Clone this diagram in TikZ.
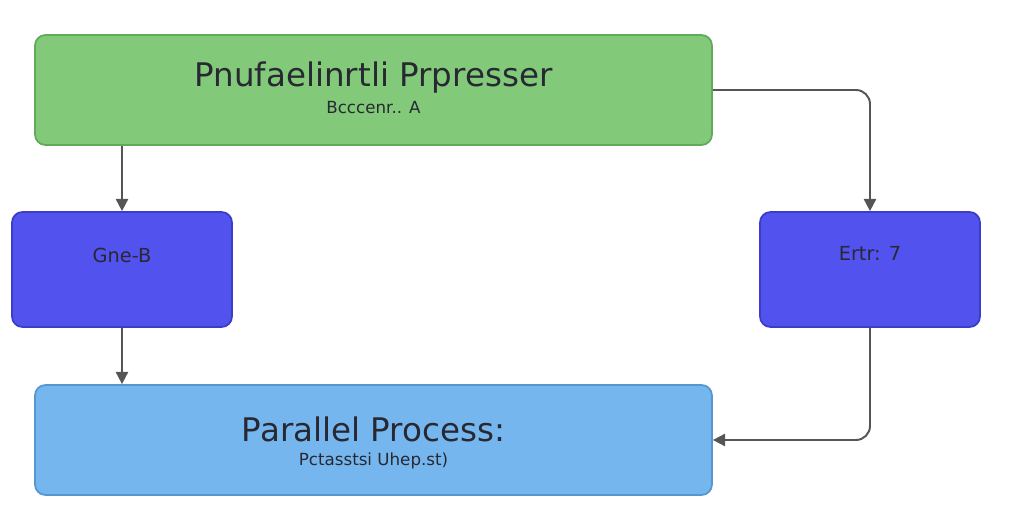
\documentclass[tikz,border=0pt]{standalone}
\usepackage{fontspec}
\setmainfont{DejaVu Sans}
\usetikzlibrary{arrows.meta}
\definecolor{procgreen}{RGB}{130,202,122}
\definecolor{procgreenline}{RGB}{96,170,90}
\definecolor{stepblue}{RGB}{82,82,238}
\definecolor{stepblueline}{RGB}{60,60,200}
\definecolor{parblue}{RGB}{118,182,238}
\definecolor{parblueline}{RGB}{86,150,210}
\definecolor{wire}{RGB}{85,85,85}
\definecolor{ink}{RGB}{40,40,50}
\begin{document}
\begin{tikzpicture}[
    box/.style={draw, line width=1pt, rounded corners=6pt, inner sep=0pt},
    bigtext/.style={text=ink, font=\fontsize{18.5}{22}\selectfont},
    smalltext/.style={text=ink, font=\fontsize{9.5}{11}\selectfont},
    midtext/.style={text=ink, font=\fontsize{11}{13}\selectfont},
    wired/.style={draw=wire, line width=1.1pt, rounded corners=8pt, -{Triangle[width=7pt,length=7pt]}}
  ]
      \useasboundingbox (0,0) rectangle (20.48,10.56);

      \node[box, at={(7.47,8.76)}, fill=procgreen, draw=procgreenline, minimum width=13.54cm, minimum height=2.2cm] (top) {};
      \node[box, at={(2.44,5.17)}, fill=stepblue, draw=stepblueline, minimum width=4.4cm, minimum height=2.3cm] (left) {};
      \node[box, at={(17.4,5.17)}, fill=stepblue, draw=stepblueline, minimum width=4.4cm, minimum height=2.3cm] (right) {};
      \node[box, at={(7.47,1.76)}, fill=parblue, draw=parblueline, minimum width=13.54cm, minimum height=2.2cm] (bottom) {};

      \node[bigtext, at={(top)}, yshift=.24cm] (toptitle) {Pnufaelinrtli Prpresser};
      \node[smalltext, at={(top)}, yshift=-.36cm] (topsub) {Bcccenr.. A};
      \node[midtext, at={(left)}, yshift=.29cm] (lefttext) {Gne-B};
      \node[midtext, at={(right)}, yshift=.33cm] (righttext) {Ertr: 7};
      \node[bigtext, at={(bottom)}, yshift=.22cm] (bottomtitle) {Parallel Process:};
      \node[smalltext, at={(bottom)}, yshift=-.42cm] (bottomsub) {Pctasstsi Uhep.st)};

      \draw[wired] (top.south -| left.north) -- (left.north);
      \draw[wired] (left.south) -- (left.south |- bottom.north);
      \draw[wired] (top.east |- 0,8.76) -| (right.north);
      \draw[wired] (right.south) |- (bottom.east);
    \end{tikzpicture}
\end{document}
